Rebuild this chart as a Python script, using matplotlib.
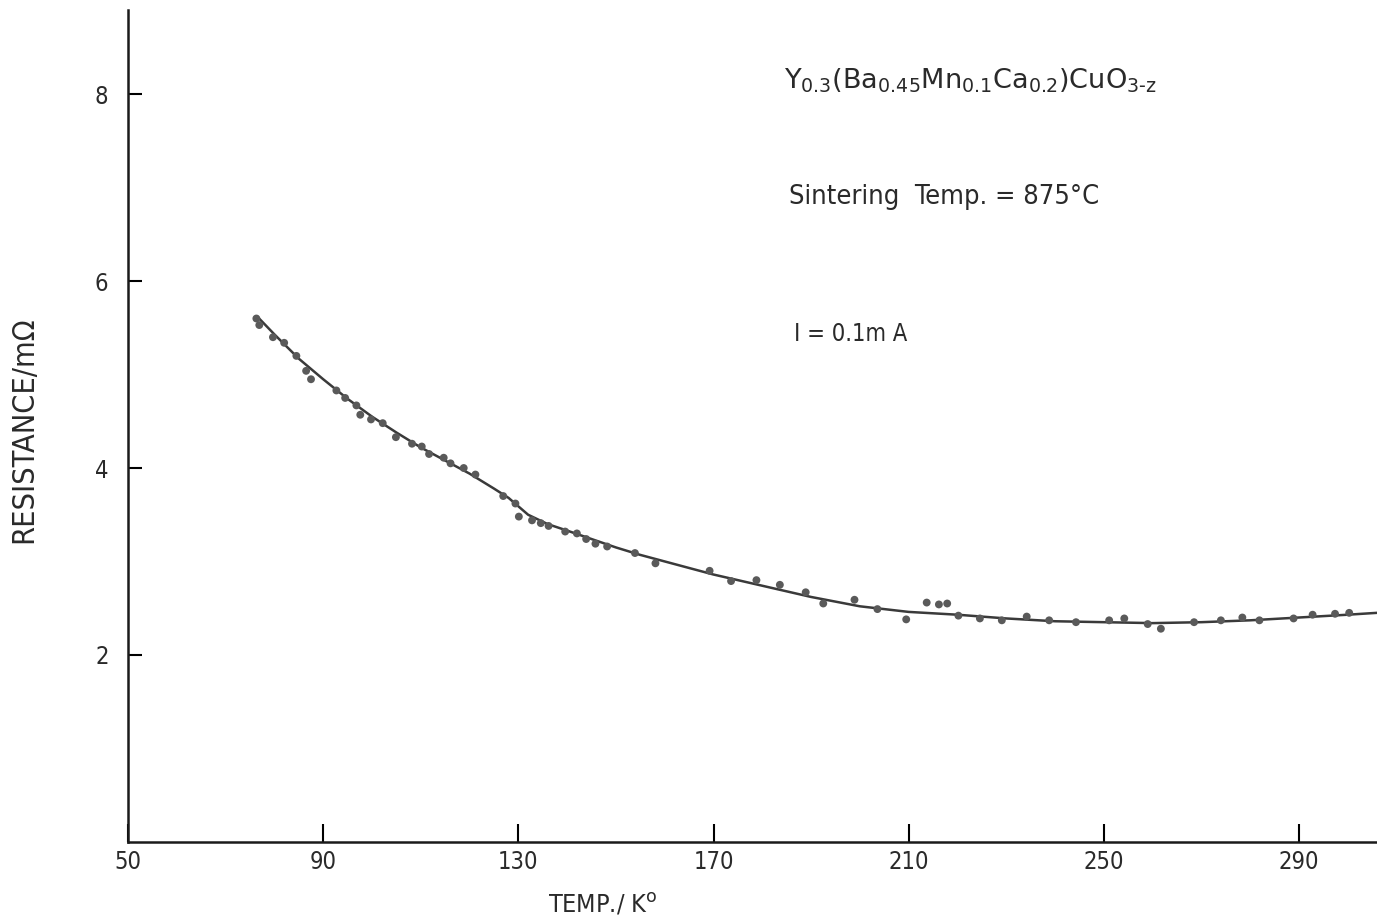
import matplotlib
matplotlib.use('Agg')
import matplotlib.pyplot as plt

# measured points (temperature K, resistance mOhm)
temp_pts = [76.3, 76.9, 79.7, 82.0, 84.5, 86.5, 87.5, 92.7, 94.5, 96.8, 97.6,
            99.8, 102.2, 104.9, 108.2, 110.2, 111.7, 114.7, 116.1, 118.8,
            121.2, 126.9, 129.4, 130.1, 132.8, 134.6, 136.2, 139.6, 142.0,
            143.9, 145.8, 148.2, 153.9, 158.1, 169.2, 173.6, 178.8, 183.6,
            188.9, 192.5, 198.9, 203.6, 209.5, 213.7, 216.2, 217.9, 220.2,
            224.6, 229.1, 234.2, 238.8, 244.3, 251.1, 254.2, 259.0, 261.7,
            268.5, 274.0, 278.4, 281.9, 288.9, 292.8, 297.4, 300.3]
res_pts = [5.60, 5.53, 5.40, 5.34, 5.20, 5.04, 4.95, 4.83, 4.75, 4.67, 4.57,
           4.52, 4.48, 4.33, 4.26, 4.23, 4.15, 4.11, 4.05, 4.00,
           3.93, 3.70, 3.62, 3.48, 3.44, 3.41, 3.38, 3.32, 3.30,
           3.24, 3.19, 3.16, 3.09, 2.98, 2.90, 2.79, 2.80, 2.75,
           2.67, 2.55, 2.59, 2.49, 2.38, 2.56, 2.54, 2.55, 2.42,
           2.39, 2.37, 2.41, 2.37, 2.35, 2.37, 2.39, 2.33, 2.28,
           2.35, 2.37, 2.40, 2.37, 2.39, 2.43, 2.44, 2.45]

# hand drawn fit curve
temp_fit = [76.5, 80, 85, 90, 95, 100, 105, 110, 115, 120, 125, 128, 132, 136,
            140, 145, 150, 155, 160, 170, 180, 190, 200, 210, 220, 230, 240,
            250, 260, 270, 280, 290, 300, 306]
res_fit = [5.62, 5.43, 5.17, 4.95, 4.74, 4.55, 4.38, 4.22, 4.08, 3.94, 3.78,
           3.68, 3.50, 3.40, 3.33, 3.24, 3.15, 3.07, 3.00, 2.86, 2.74, 2.62,
           2.52, 2.46, 2.43, 2.39, 2.36, 2.35, 2.34, 2.35, 2.37, 2.40, 2.43,
           2.45]

x_ticks = [50, 90, 130, 170, 210, 250, 290]
y_ticks = [2, 4, 6, 8]

ink = '#2a2a2a'
font = dict(family='DejaVu Sans', stretch='condensed', color=ink)

fig = plt.figure(figsize=(13.77, 9.24), dpi=100)
ax = fig.add_axes([0.093, 0.089, 0.907, 0.9])

ax.plot(temp_fit, res_fit, color='#3a3a3a', lw=1.8, zorder=2)
ax.scatter(temp_pts, res_pts, s=32, color='#5a5a5a', edgecolors='none', zorder=3)

ax.set_xlim(50, 306)
ax.set_ylim(0, 8.9)
ax.set_xticks(x_ticks)
ax.set_yticks(y_ticks)
ax.set_xticklabels([str(t) for t in x_ticks], fontsize=17, **font)
ax.set_yticklabels([str(t) for t in y_ticks], fontsize=17, **font)
ax.tick_params(axis='x', direction='in', length=13, width=1.5, pad=6)
ax.tick_params(axis='y', direction='in', length=10, width=1.5, pad=14)

for side in ['top', 'right']:
    ax.spines[side].set_visible(False)
for side in ['left', 'bottom']:
    ax.spines[side].set_linewidth(1.8)
    ax.spines[side].set_color('#1a1a1a')

ax.set_xlabel('TEMP./ K$^{\\mathrm{o}}$', fontsize=18, **font)
ax.xaxis.set_label_coords(0.38, -0.06)
ax.set_ylabel('RESISTANCE/m\u03a9', fontsize=22, **font)
ax.yaxis.set_label_coords(-0.072, 0.496)

ax.text(0.525, 0.915,
        r'$\mathrm{Y_{0.3}(Ba_{0.45}Mn_{0.1}Ca_{0.2})CuO_{3\text{-}z}}$',
        transform=ax.transAxes, fontsize=19.5, color=ink, va='center')
ax.text(0.529, 0.775, 'Sintering  Temp. = 875\u00b0C', transform=ax.transAxes,
        fontsize=19.5, va='center', **font)
ax.text(0.533, 0.61, 'I = 0.1m A', transform=ax.transAxes,
        fontsize=17, va='center', **font)

fig.savefig('out.png', dpi=100)
